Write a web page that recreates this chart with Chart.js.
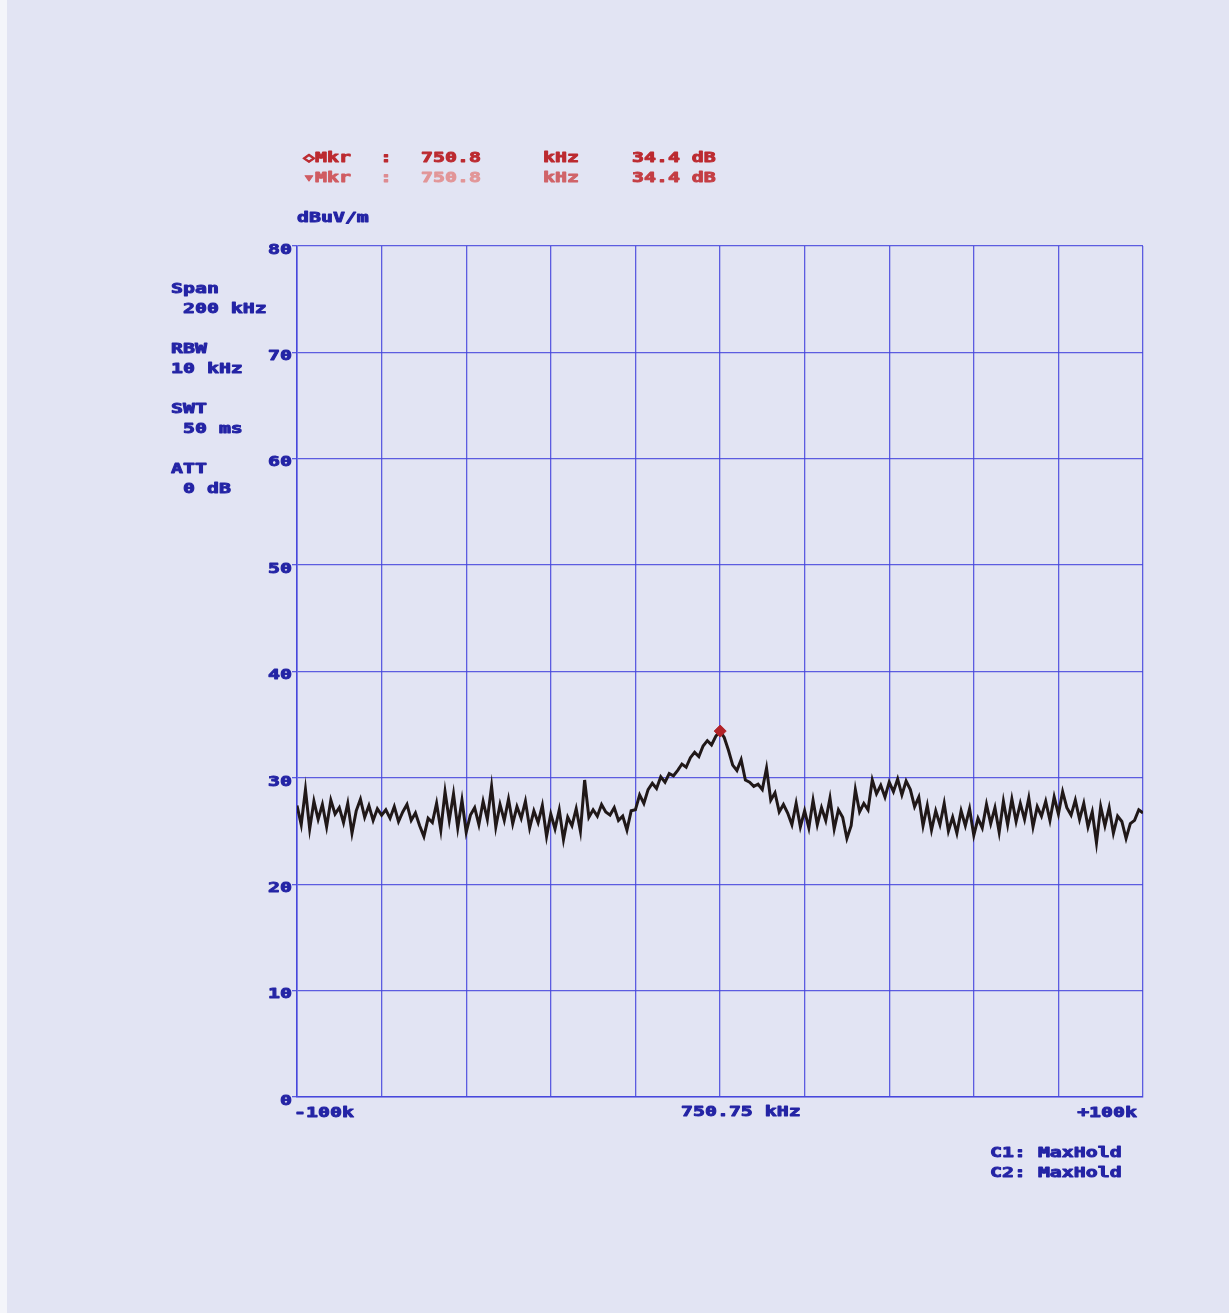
<!DOCTYPE html>
<html>
<head>
<meta charset="utf-8">
<script src="https://cdn.jsdelivr.net/npm/chart.js@4"></script>
<style>
  html, body { margin: 0; padding: 0; background: #f4f5fa; }
  #sheet { position: absolute; left: 7px; top: 0; width: 1222px; height: 1313px; background: #e2e4f3; }
  #plot { position: absolute; left: 0; top: 0; }
</style>
</head>
<body>
<div id="sheet"></div>
<canvas id="plot" width="1229" height="1313"></canvas>
<script>
// Spectrum analyser sweep: centre 750.75 kHz, span 200 kHz, 1 kHz per trace point
const centerKHz = 750.75;
const spanKHz = 200;
const traceStartOffsetKHz = -100;
const traceStepKHz = 1;

// Max-hold trace level, dBuV/m, from -100 kHz to +100 kHz offset
const levelDb = [
  27.4, 25.6, 28.9, 25.2, 27.8, 26.1, 27.5, 25.4, 27.9, 26.6,
  27.2, 25.8, 27.6, 24.8, 26.9, 28.0, 26.3, 27.4, 26.0, 27.1,
  26.5, 27.0, 26.2, 27.3, 25.9, 26.8, 27.5, 26.0, 26.7, 25.5,
  24.5, 26.2, 25.8, 27.6, 25.1, 28.7, 26.0, 28.5, 25.3, 27.9,
  24.9, 26.5, 27.2, 25.6, 27.8, 26.1, 29.2, 25.4, 27.5, 26.0,
  28.0, 25.7, 27.3, 26.2, 27.8, 25.3, 26.9, 25.8, 27.4, 24.5,
  26.6, 25.2, 27.0, 24.2, 26.3, 25.5, 27.1, 25.0, 29.8, 26.3,
  27.0, 26.4, 27.5, 26.8, 26.5, 27.2, 26.0, 26.4, 25.1, 26.9,
  27.0, 28.4, 27.6, 28.9, 29.5, 29.0, 30.1, 29.6, 30.4, 30.2,
  30.7, 31.3, 31.0, 31.9, 32.4, 32.0, 33.0, 33.5, 33.1, 33.9,
  34.4,
  33.8, 32.6, 31.2, 30.7, 31.7, 29.8, 29.6, 29.2, 29.4, 28.9,
  30.9, 27.9, 28.6, 26.8, 27.5, 26.7, 25.6, 27.6, 25.4, 26.9,
  25.3, 27.9, 25.6, 27.2, 26.0, 28.1, 25.2, 27.0, 26.3, 24.3,
  25.5, 28.9, 26.8, 27.6, 27.0, 29.8, 28.5, 29.3, 28.2, 29.6,
  28.7, 29.9, 28.4, 29.7, 28.9, 27.3, 28.2, 25.5, 27.4, 25.1,
  26.9, 25.6, 27.6, 25.0, 26.3, 24.8, 26.9, 25.5, 27.1, 24.6,
  26.2, 25.3, 27.5, 25.7, 27.2, 24.9, 27.8, 25.6, 28.0, 25.9,
  27.6, 26.1, 28.1, 25.4, 27.3, 26.4, 27.8, 26.0, 28.2, 26.6,
  28.7, 27.2, 26.5, 27.9, 26.1, 27.6, 25.4, 26.8, 23.9, 27.3,
  25.5, 27.2, 24.8, 26.4, 25.9, 24.3, 25.7, 26.0, 27.0, 26.7
];

// Marker readout
const markerKHz = 750.8;
const markerDb = 34.4;

// Level axis
const levelMin = 0;
const levelMax = 80;
const levelStep = 10;

// Frequency axis labels at left edge, centre and right edge
const freqTickLabels = ["-100k", "750.75 kHz", "+100k"];

// Instrument settings column
const settingLines = [
  ["Span", " 200 kHz"],
  ["RBW", "10 kHz"],
  ["SWT", " 50 ms"],
  ["ATT", " 0 dB"]
];
const traceModes = ["C1: MaxHold", "C2: MaxHold"];
const unitLabel = "dBuV/m";

const tracePoints = levelDb.map((v, i) => ({ x: traceStartOffsetKHz + i * traceStepKHz, y: v }));

const BLUE_TEXT = "rgb(36,36,165)";
const GRID = "rgba(68,68,220,0.85)";
const FONT = 'bold 14px "DejaVu Sans Mono"';
const STRETCH = 1.42; // wide plotter lettering

function wideText(ctx, text, x, y, color, align) {
  ctx.save();
  ctx.font = FONT;
  ctx.fillStyle = color;
  ctx.strokeStyle = color;
  ctx.lineWidth = 0.9;
  ctx.lineJoin = "round";
  ctx.textBaseline = "middle";
  const w = ctx.measureText(text).width * STRETCH;
  let left = x;
  if (align === "right") left = x - w;
  else if (align === "center") left = x - w / 2;
  ctx.translate(left, y);
  ctx.scale(STRETCH, 1);
  ctx.textAlign = "left";
  ctx.fillText(text, 0, 0);
  ctx.strokeText(text, 0, 0);
  ctx.restore();
}

const annotations = {
  id: "plotterText",
  afterDraw(chart) {
    const ctx = chart.ctx;
    const xs = chart.scales.x, ys = chart.scales.y;

    // marker readout lines
    const r1 = "rgb(188,42,48)";
    wideText(ctx, "\u25C7Mkr", 303, 158, r1);
    wideText(ctx, ":", 380, 158, r1);
    wideText(ctx, markerKHz.toFixed(1), 421, 158, r1);
    wideText(ctx, "kHz", 543, 158, r1);
    wideText(ctx, markerDb.toFixed(1) + " dB", 632, 158, r1);

    wideText(ctx, "\u25BEMkr", 303, 178, "rgb(208,92,98)");
    wideText(ctx, ":", 380, 178, "rgb(222,140,145)");
    wideText(ctx, markerKHz.toFixed(1), 421, 178, "rgb(226,150,152)");
    wideText(ctx, "kHz", 543, 178, "rgb(208,100,105)");
    wideText(ctx, markerDb.toFixed(1) + " dB", 632, 178, "rgb(196,62,68)");

    // unit
    wideText(ctx, unitLabel, 297, 218, BLUE_TEXT);

    // settings column
    settingLines.forEach((pair, i) => {
      const y0 = 289 + i * 60;
      wideText(ctx, pair[0], 171, y0, BLUE_TEXT);
      wideText(ctx, pair[1], 171, y0 + 20, BLUE_TEXT);
    });

    // level tick labels
    for (let v = levelMin; v <= levelMax; v += levelStep) {
      wideText(ctx, String(v), 292, ys.getPixelForValue(v) + 4, BLUE_TEXT, "right");
    }

    // frequency labels
    const yLab = ys.getPixelForValue(levelMin) + 16;
    wideText(ctx, freqTickLabels[0], xs.getPixelForValue(-spanKHz / 2) - 3, yLab, BLUE_TEXT);
    wideText(ctx, freqTickLabels[1], xs.getPixelForValue(0) - 39, yLab - 1, BLUE_TEXT);
    wideText(ctx, freqTickLabels[2], xs.getPixelForValue(spanKHz / 2) - 6, yLab, BLUE_TEXT, "right");

    // trace modes
    traceModes.forEach((t, i) => wideText(ctx, t, 990, 1153 + i * 20, BLUE_TEXT));
  }
};

new Chart(document.getElementById("plot"), {
  type: "line",
  data: {
    datasets: [
      {
        label: "trace",
        data: tracePoints,
        borderColor: "rgb(32,24,24)",
        borderWidth: 3,
        pointRadius: 0,
        tension: 0,
        order: 2
      },
      {
        label: "marker",
        data: [{ x: markerKHz - centerKHz, y: markerDb }],
        showLine: false,
        pointStyle: "rectRot",
        pointRadius: 6,
        pointBackgroundColor: "rgb(178,34,40)",
        pointBorderColor: "rgb(178,34,40)",
        order: 1
      }
    ]
  },
  options: {
    responsive: false,
    animation: false,
    devicePixelRatio: 1,
    layout: { padding: { left: 293, top: 246, right: 86, bottom: 216 } },
    plugins: { legend: { display: false }, tooltip: { enabled: false } },
    scales: {
      x: {
        type: "linear",
        min: -spanKHz / 2,
        max: spanKHz / 2,
        ticks: { stepSize: spanKHz / 10, display: false },
        grid: { color: GRID, lineWidth: 1.3, drawTicks: false },
        border: { color: GRID, width: 1.5 },
        afterFit(s) { s.height = 0; }
      },
      y: {
        min: levelMin,
        max: levelMax,
        ticks: { stepSize: levelStep, display: false },
        grid: { color: GRID, lineWidth: 1.3, drawTicks: true, tickLength: 5 },
        border: { color: GRID, width: 1.6 },
        afterFit(s) { s.width = 4; }
      }
    }
  },
  plugins: [annotations]
});
</script>
</body>
</html>
